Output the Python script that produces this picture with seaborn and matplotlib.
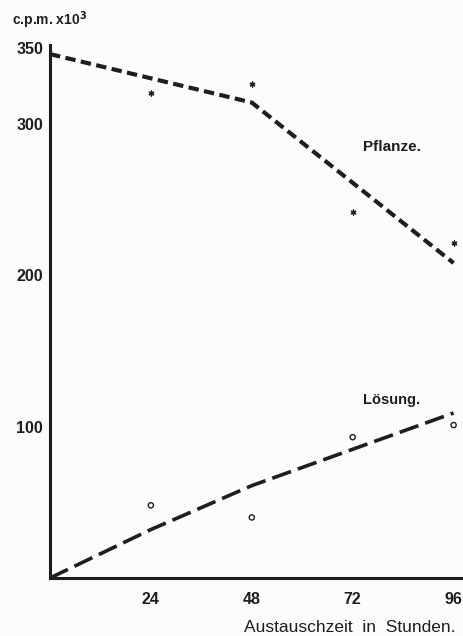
import matplotlib
matplotlib.use("Agg")
import matplotlib.pyplot as plt
import seaborn as sns
import pandas as pd

# Exchange time in hours
hours = [0, 24, 48, 72, 96]
# Fitted curves (c.p.m. x 10^3)
pflanze_curve = [346, 330, 314, 261, 208]
loesung_curve = [0, 32, 61, 85, 109]
# Measured points
pt_hours = [24, 48, 72, 96]
pflanze_pts = [320, 326, 242, 221]
loesung_pts = [48, 40, 93, 101]

x_ticks = [24, 48, 72, 96]
y_ticks = [100, 200, 300, 350]

sns.set_theme(style="white")
plt.rcParams["font.family"] = ["Liberation Sans", "DejaVu Sans"]

ink = "#1e1e1e"
fig = plt.figure(figsize=(4.64, 6.36), dpi=100, facecolor="#fcfcfa")
ax = fig.add_axes([50 / 464, 1 - 578 / 636, 412 / 464, (578 - 45) / 636])
ax.set_facecolor("#fcfcfa")

curves = pd.DataFrame({"h": hours, "pfl": pflanze_curve, "loe": loesung_curve})
pts = pd.DataFrame({"h": pt_hours, "pfl": pflanze_pts, "loe": loesung_pts})

sns.lineplot(data=curves, x="h", y="pfl", ax=ax, color=ink, lw=3.0,
             linestyle=(0, (2.5, 1.3)), solid_capstyle="butt")
sns.lineplot(data=curves, x="h", y="loe", ax=ax, color=ink, lw=2.6,
             linestyle=(0, (5.5, 2.0)))
sns.scatterplot(data=pts, x="h", y="pfl", ax=ax, marker=(6, 2, 0), s=12,
                color=ink, linewidth=1.0, edgecolor=ink)
sns.scatterplot(data=pts, x="h", y="loe", ax=ax, marker="o", s=14,
                facecolor="none", edgecolor=ink, linewidth=1.0)

ax.set_xlim(0, 98)
ax.set_ylim(0, 352)
ax.set_xticks(x_ticks)
ax.set_yticks(y_ticks)
ax.set_xticklabels([str(v) for v in x_ticks])
ax.set_yticklabels([str(v) for v in y_ticks])
for s in ["top", "right"]:
    ax.spines[s].set_visible(False)
for s in ["left", "bottom"]:
    ax.spines[s].set_color(ink)
    ax.spines[s].set_linewidth(2.2)
ax.tick_params(axis="both", direction="inout", length=4, width=0.8,
               colors=ink, labelsize=11.5)
ax.tick_params(axis="x", pad=8)
ax.tick_params(axis="y", pad=3)
for lab in ax.get_xticklabels() + ax.get_yticklabels():
    lab.set_fontweight("bold")
ax.set_xlabel("")
ax.set_ylabel("")

fig.text(12 / 464, 1 - 20 / 636, "c.p.m. x10$^{\\mathbf{3}}$", fontsize=10,
         fontweight="bold", color=ink, va="center", ha="left")
fig.text(350 / 464, 1 - 627 / 636, "Austauschzeit  in  Stunden.",
         fontsize=12.5, color=ink, va="center", ha="center")
fig.text(392 / 464, 1 - 147 / 636, "Pflanze.", fontsize=11,
         fontweight="bold", color=ink, va="center", ha="center")
fig.text(392 / 464, 1 - 400 / 636, "Lösung.", fontsize=10.5,
         fontweight="bold", color=ink, va="center", ha="center")

fig.savefig("out.png", dpi=100, facecolor=fig.get_facecolor())
